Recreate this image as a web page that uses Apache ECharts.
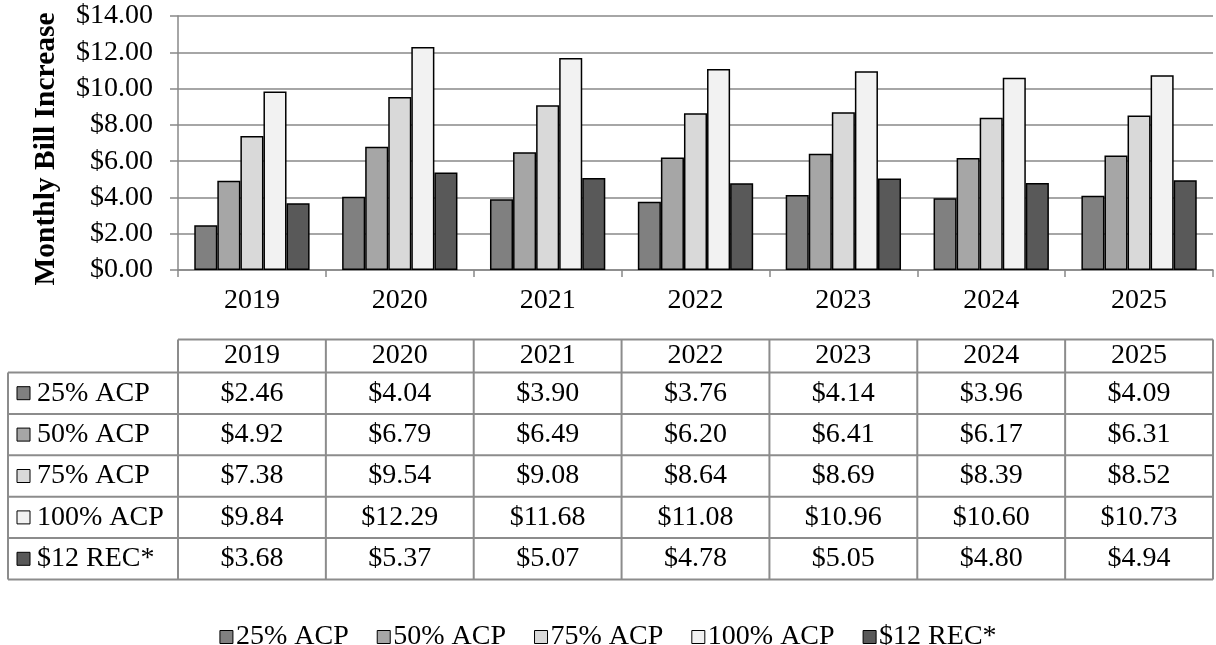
<!DOCTYPE html>
<html>
<head>
<meta charset="utf-8">
<script src="https://cdn.jsdelivr.net/npm/echarts@6/dist/echarts.min.js"></script>
<style>
  html, body { margin: 0; padding: 0; background: #fff; }
  #chart { width: 1216px; height: 645px; }
</style>
</head>
<body>
<div id="chart"></div>
<script>
// Years on the category axis and in the table header
const categories = ['2019', '2020', '2021', '2022', '2023', '2024', '2025'];

// Monthly bill increase ($) per scenario
const acp25  = [2.46, 4.04, 3.90, 3.76, 4.14, 3.96, 4.09];
const acp50  = [4.92, 6.79, 6.49, 6.20, 6.41, 6.17, 6.31];
const acp75  = [7.38, 9.54, 9.08, 8.64, 8.69, 8.39, 8.52];
const acp100 = [9.84, 12.29, 11.68, 11.08, 10.96, 10.60, 10.73];
const rec12  = [3.68, 5.37, 5.07, 4.78, 5.05, 4.80, 4.94];

const seriesNames = ['25% ACP', '50% ACP', '75% ACP', '100% ACP', '$12 REC*'];
const seriesData = [acp25, acp50, acp75, acp100, rec12];
const seriesColors = ['#808080', '#a6a6a6', '#d9d9d9', '#f2f2f2', '#595959'];

const yTitle = 'Monthly Bill Increase';
const yMin = 0, yMax = 14, yStep = 2;

const FONT = '"Liberation Serif", "Times New Roman", serif';
const FS = 28;
const GRID_GRAY = '#888888';

const money = v => '$' + v.toFixed(2);

const chart = echarts.init(document.getElementById('chart'), null, { renderer: 'canvas' });

chart.setOption({
  animation: false,
  backgroundColor: '#ffffff',
  textStyle: { fontFamily: FONT, color: '#000' },
  grid: { left: 178, right: 3, top: 16, bottom: 375, containLabel: false },
  legend: {
    data: seriesNames,
    top: 618,
    left: 'center',
    icon: 'rect',
    itemWidth: 13,
    itemHeight: 13,
    itemGap: 28,
    itemStyle: { borderColor: '#000', borderWidth: 1 },
    textStyle: { fontFamily: FONT, fontSize: FS, color: '#000', padding: [0, 0, 0, -2] }
  },
  xAxis: {
    type: 'category',
    data: categories,
    axisLine: { lineStyle: { color: GRID_GRAY, width: 1.5 } },
    axisTick: { show: true, length: 7, lineStyle: { color: GRID_GRAY, width: 1.5 } },
    axisLabel: { fontFamily: FONT, fontSize: FS, color: '#000', margin: 17 }
  },
  yAxis: {
    type: 'value',
    min: yMin,
    max: yMax,
    interval: yStep,
    axisLine: { show: true, lineStyle: { color: GRID_GRAY, width: 1.5 } },
    axisTick: { show: true, length: 8, lineStyle: { color: GRID_GRAY, width: 1.5 } },
    axisLabel: { fontFamily: FONT, fontSize: FS, color: '#000', margin: 25, formatter: v => money(v) },
    splitLine: { lineStyle: { color: GRID_GRAY, width: 1.5 } }
  },
  series: seriesNames.map((name, i) => ({
    name,
    type: 'bar',
    data: seriesData[i],
    barGap: '0%',
    barCategoryGap: '22%',
    itemStyle: { color: seriesColors[i], borderColor: '#000', borderWidth: 1.5 }
  }))
});

// Y-axis title and the data table under the plot (columns follow the category bands)
function buildExtras() {
  const gridModel = chart.getModel().getComponent('grid', 0);
  const rect = gridModel.coordinateSystem.getRect();
  const band = rect.width / categories.length;
  const colLeft = i => rect.x + i * band;
  const tableLeft = 8;
  const headerTop = 339.5;
  const headerH = 33;
  const rowH = 41.4;
  const bottom = headerTop + headerH + rowH * seriesNames.length;
  const right = rect.x + rect.width;
  const lineStyle = { stroke: '#8c8c8c', lineWidth: 2 };
  const els = [];

  els.push({
    type: 'text', silent: true, x: 46, y: 149, rotation: Math.PI / 2,
    style: { text: yTitle, fontFamily: FONT, fontSize: 29.5, fontWeight: 'bold', fill: '#000', align: 'center', verticalAlign: 'middle' }
  });

  const hLine = (x1, x2, y) => els.push({ type: 'line', silent: true, shape: { x1, y1: y, x2, y2: y }, style: lineStyle });
  const vLine = (x, y1, y2) => els.push({ type: 'line', silent: true, shape: { x1: x, y1, x2: x, y2 }, style: lineStyle });

  // horizontal rules
  hLine(rect.x, right, headerTop);
  for (let r = 0; r <= seriesNames.length; r++) {
    hLine(tableLeft, right, headerTop + headerH + r * rowH);
  }
  // vertical rules
  vLine(tableLeft, headerTop + headerH, bottom);
  for (let c = 0; c <= categories.length; c++) {
    vLine(colLeft(c), headerTop, bottom);
  }

  // header years
  categories.forEach(cat => {
    const cx = chart.convertToPixel({ xAxisIndex: 0 }, cat);
    els.push({
      type: 'text', silent: true, x: cx, y: headerTop + headerH / 2,
      style: { text: cat, fontFamily: FONT, fontSize: FS, fill: '#000', align: 'center', verticalAlign: 'middle' }
    });
  });

  // body rows: legend key, series name, values
  seriesNames.forEach((name, r) => {
    const cy = headerTop + headerH + r * rowH + rowH / 2;
    els.push({
      type: 'rect', silent: true,
      shape: { x: 17, y: cy - 6.5, width: 13, height: 13 },
      style: { fill: seriesColors[r], stroke: '#000', lineWidth: 1 }
    });
    els.push({
      type: 'text', silent: true, x: 37, y: cy,
      style: { text: name, fontFamily: FONT, fontSize: FS, fill: '#000', align: 'left', verticalAlign: 'middle' }
    });
    seriesData[r].forEach((v, c) => {
      const cx = chart.convertToPixel({ xAxisIndex: 0 }, categories[c]);
      els.push({
        type: 'text', silent: true, x: cx, y: cy,
        style: { text: money(v), fontFamily: FONT, fontSize: FS, fill: '#000', align: 'center', verticalAlign: 'middle' }
      });
    });
  });

  chart.setOption({ graphic: { elements: els } });
}

buildExtras();
</script>
</body>
</html>
